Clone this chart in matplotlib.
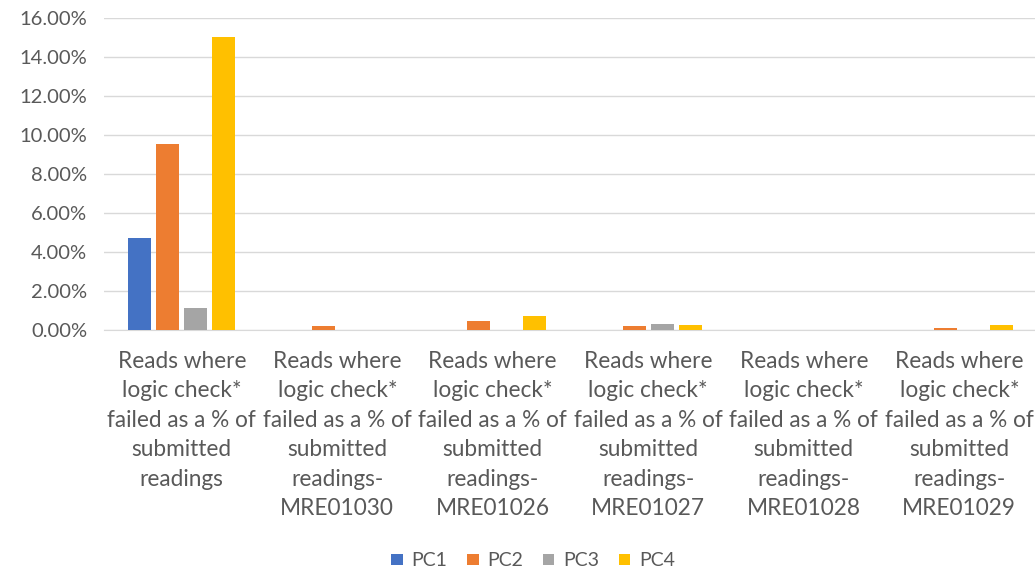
import numpy as np
import matplotlib.pyplot as plt
from matplotlib.ticker import PercentFormatter

base = "Reads where\nlogic check*\nfailed as a % of\nsubmitted\nreadings"
categories = [base] + [base + "-\n" + c for c in
                       ["MRE01030", "MRE01026", "MRE01027", "MRE01028", "MRE01029"]]
series = ["PC1", "PC2", "PC3", "PC4"]
pc1 = [4.72, 0.0, 0.0, 0.0, 0.0, 0.0]
pc2 = [9.54, 0.18, 0.45, 0.21, 0.0, 0.08]
pc3 = [1.12, 0.02, 0.0, 0.33, 0.0, 0.0]
pc4 = [15.05, 0.0, 0.70, 0.26, 0.0, 0.26]
colors = ["#4472C4", "#ED7D31", "#A5A5A5", "#FFC000"]

plt.rcParams['font.family'] = ['Lato', 'DejaVu Sans']

fig = plt.figure(figsize=(10.35, 5.71), dpi=100)
ax = fig.add_axes([104 / 1035, 1 - 330 / 571, 933 / 1035, (330 - 18) / 571])

x = np.arange(len(categories))
w = 0.145
step = 0.18
for i, (name, vals) in enumerate(zip(series, [pc1, pc2, pc3, pc4])):
    ax.bar(x + (i - 1.5) * step, np.array(vals) / 100, w, color=colors[i], label=name, zorder=3)

ax.set_xlim(-0.5, len(categories) - 0.5)
ax.set_ylim(0, 0.16)
ax.set_yticks(np.arange(0, 0.161, 0.02))
ax.yaxis.set_major_formatter(PercentFormatter(1.0, decimals=2))
ax.set_xticks(x)
ax.set_xticklabels(categories, fontsize=16.3, color="#595959", linespacing=1.5)
ax.tick_params(axis='y', labelsize=14.5, colors="#595959", length=0, pad=12)
ax.tick_params(axis='x', length=0, pad=15)
ax.grid(axis='y', color="#d9d9d9", linewidth=1, zorder=0)
for s in ["top", "right", "left"]:
    ax.spines[s].set_visible(False)
ax.spines["bottom"].set_color("#d9d9d9")

fig.legend(loc="center", bbox_to_anchor=(533 / 1035, 1 - 561 / 571), ncol=4, frameon=False,
           fontsize=14, labelcolor="#595959", handlelength=0.6, handleheight=0.52,
           handletextpad=0.45, columnspacing=1.0)

fig.savefig("out.png", dpi=100)
